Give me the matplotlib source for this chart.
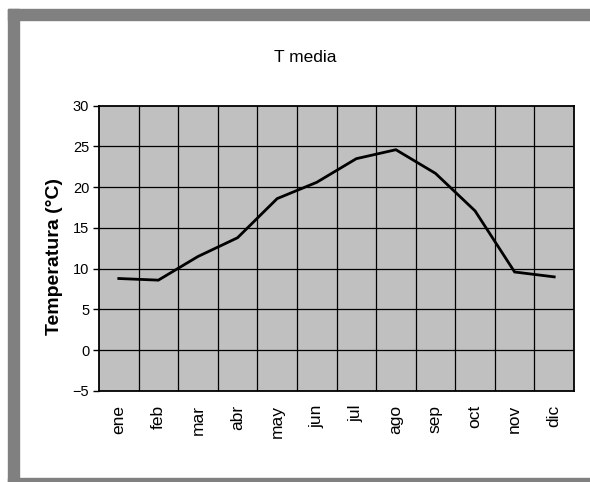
import matplotlib
matplotlib.use("Agg")
import matplotlib.pyplot as plt
from matplotlib.patches import Rectangle
import numpy as np

plt.rcParams['font.family'] = ['Liberation Sans', 'DejaVu Sans']

# monthly mean temperature
meses = ['ene', 'feb', 'mar', 'abr', 'may', 'jun', 'jul', 'ago', 'sep', 'oct', 'nov', 'dic']
t_media = [8.8, 8.6, 11.5, 13.8, 18.6, 20.6, 23.5, 24.6, 21.7, 17.1, 9.6, 9.0]
y_ticks = [-5, 0, 5, 10, 15, 20, 25, 30]

W, H = 590, 482
fig = plt.figure(figsize=(W / 100, H / 100), dpi=100)
fig.patch.set_facecolor('white')

# gray frame (left, top, bottom)
gray = '#808080'
fig.patches.append(Rectangle((8 / W, 0), 11 / W, 1 - 9 / H, transform=fig.transFigure, color=gray, zorder=0))
fig.patches.append(Rectangle((8 / W, 1 - 20 / H), 1, 11 / H, transform=fig.transFigure, color=gray, zorder=0))
fig.patches.append(Rectangle((8 / W, 0), 1, 4 / H, transform=fig.transFigure, color=gray, zorder=0))

ax = fig.add_axes([99 / W, 1 - 391 / H, (574 - 99) / W, (391 - 105.7) / H])
ax.set_facecolor('#c0c0c0')

x = np.arange(len(meses))
ax.plot(x, t_media, color='black', lw=2.0, solid_joinstyle='miter', zorder=3)

ax.set_xlim(-0.5, len(meses) - 0.5)
ax.set_ylim(-5, 30)
ax.set_yticks(y_ticks)
ax.set_yticklabels([str(v).replace('-', '\u2212') for v in y_ticks], fontsize=10.5)
ax.set_xticks(x)
ax.set_xticklabels(meses, rotation=90, fontsize=12.5)
ax.tick_params(axis='x', length=0, pad=10)
ax.tick_params(axis='y', length=4, width=1, direction='out', pad=3)

# grid on category boundaries and y ticks
for b in np.arange(0.5, len(meses) - 0.5, 1):
    ax.axvline(b, color='black', lw=0.9, zorder=1)
for v in y_ticks[1:-1]:
    ax.axhline(v, color='black', lw=0.9, zorder=1)

for s in ax.spines.values():
    s.set_color('black')
    s.set_linewidth(1.3)

ax.set_ylabel('Temperatura (°C)', fontsize=14, fontweight='bold')
ax.yaxis.set_label_coords(-0.076, 0.47)
fig.text(305 / W, 1 - 58 / H, 'T media', fontsize=12.5, ha='center', va='center')

fig.savefig('out.png', dpi=100)
